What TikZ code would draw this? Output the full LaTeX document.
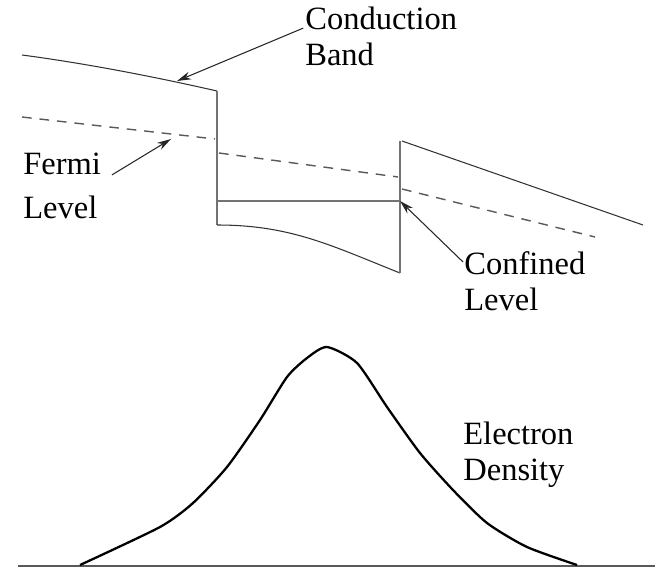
\documentclass[tikz,border=0pt]{standalone}
\usepackage{fontspec}
\setmainfont{Liberation Serif}
\usetikzlibrary{arrows.meta}

\begin{document}
\begin{tikzpicture}[
    x=0.02cm, y=-0.02cm,
    lbl/.style={anchor=base west, inner sep=0pt, align=left,
                font=\rmfamily\fontsize{18.5}{20}\selectfont},
    band/.style={draw=black!80, line width=0.6pt},
    wall/.style={draw=black!55, line width=0.8pt},
    fermi/.style={draw=black!65, line width=0.8pt, dash pattern=on 5.5pt off 4.5pt},
    ptr/.style={draw=black!85, line width=0.6pt, -{Stealth[length=8pt, width=4.5pt]}},
    dens/.style={draw=black, line width=1.3pt},
    axis/.style={draw=black!65, line width=1.1pt},
  ]
  \useasboundingbox (0,0) rectangle (655,572);

  % conduction band
  \draw[band] (22,55) .. controls (90,64) and (160,78) .. (217,91);
  \draw[wall] (217,91) -- (217,225);
  \draw[band] (217,225) .. controls (290,225) and (330,245) .. (400,273);
  \draw[wall] (400,273) -- (400,141);
  \draw[band] (402,141) -- (643,225);
  % confined level
  \draw[wall] (217,201) -- (400,201);
  \coordinate (conftip) at (400,201);
  % fermi level
  \draw[fermi] (22,117) -- (215,139);
  \draw[fermi] (219,153) -- (398,177);
  \draw[fermi] (402,189) -- (595,237);

  % labels (base = last line)
  \node[lbl] (cond) at (305,65) {Conduction\\Band};
  \node[lbl] (fermi) at (23,218) {Fermi\\[4.5pt]Level};
  \node[lbl] (conf) at (464,310) {Confined\\Level};
  \node[lbl] (dens) at (463,480) {Electron\\Density};

  \coordinate (condtip) at (177,81);
  \coordinate (fermitip) at (171,139);
  \draw[ptr] ([xshift=-1pt, yshift=21pt]cond.base west) -- (condtip);
  \draw[ptr] ([xshift=6pt, yshift=24.5pt]fermi.base east) -- (fermitip);
  \draw[ptr] ([xshift=-0.5pt, yshift=27.3pt]conf.base west) -- (conftip);

  % electron density
  \draw[axis] (18,566) -- (655,566);
  \draw[dens] plot[smooth, tension=0.4] coordinates {
    (80,565) (160,527) (193,503) (227,467) (260,420) (287,377) (307,358)
    (327,347) (357,363) (387,407) (420,453) (453,490) (487,523) (527,547)
    (577,565)};
\end{tikzpicture}
\end{document}
